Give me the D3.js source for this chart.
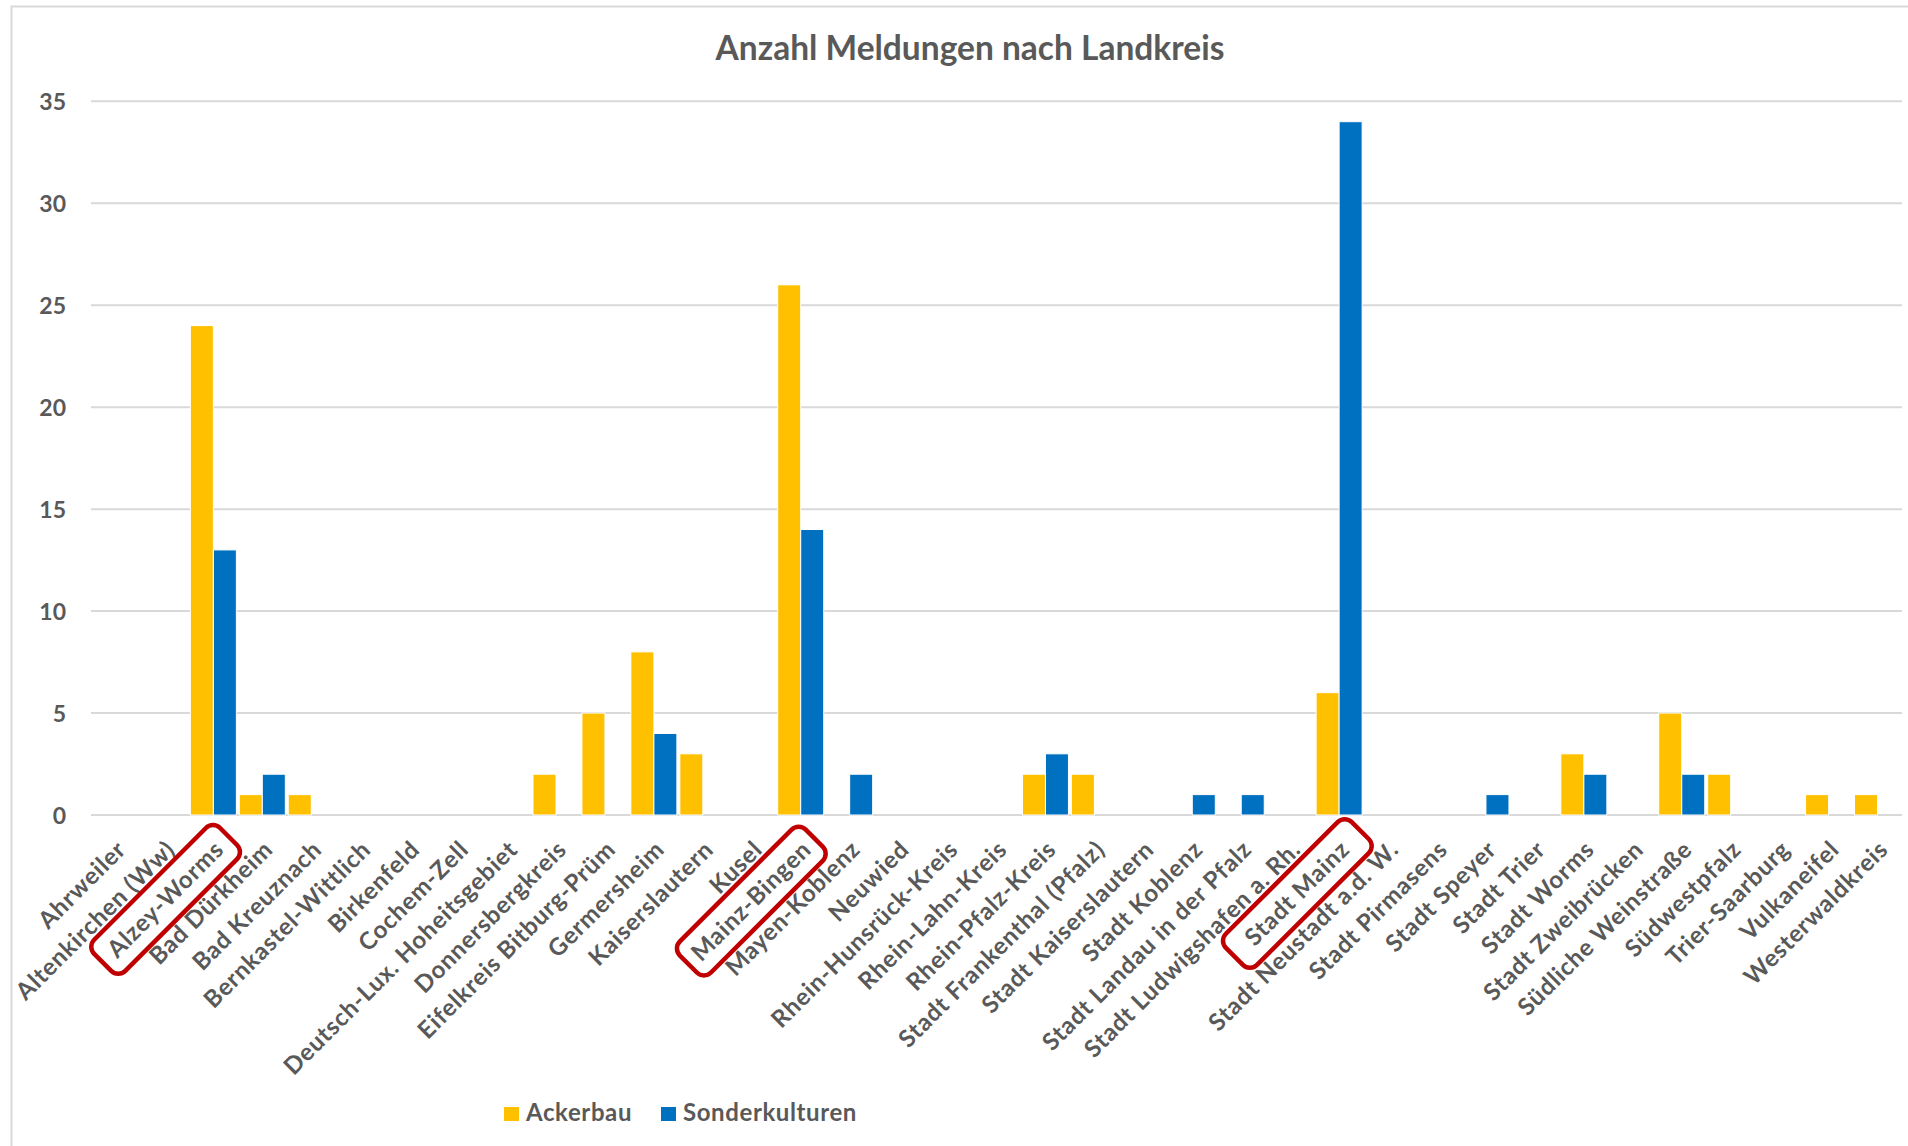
<!DOCTYPE html>
<html>
<head>
<meta charset="utf-8">
<script src="https://cdn.jsdelivr.net/npm/d3@7"></script>
<style>
  html, body { margin: 0; padding: 0; background: #ffffff; }
  svg { display: block; }
  text { font-family: Lato, "Open Sans", sans-serif; }
</style>
</head>
<body>
<svg id="chart" width="1908" height="1146"></svg>
<script>
// ---------------- data ----------------
const title = "Anzahl Meldungen nach Landkreis";
const categories = [
  "Ahrweiler", "Altenkirchen (Ww)", "Alzey-Worms", "Bad Dürkheim", "Bad Kreuznach",
  "Bernkastel-Wittlich", "Birkenfeld", "Cochem-Zell", "Deutsch-Lux. Hoheitsgebiet",
  "Donnersbergkreis", "Eifelkreis Bitburg-Prüm", "Germersheim", "Kaiserslautern", "Kusel",
  "Mainz-Bingen", "Mayen-Koblenz", "Neuwied", "Rhein-Hunsrück-Kreis", "Rhein-Lahn-Kreis",
  "Rhein-Pfalz-Kreis", "Stadt Frankenthal (Pfalz)", "Stadt Kaiserslautern", "Stadt Koblenz",
  "Stadt Landau in der Pfalz", "Stadt Ludwigshafen a. Rh.", "Stadt Mainz", "Stadt Neustadt a.d. W.",
  "Stadt Pirmasens", "Stadt Speyer", "Stadt Trier", "Stadt Worms", "Stadt Zweibrücken",
  "Südliche Weinstraße", "Südwestpfalz", "Trier-Saarburg", "Vulkaneifel", "Westerwaldkreis"
];
const seriesNames = ["Ackerbau", "Sonderkulturen"];
const ackerbau = [0,0,24,1,1,0,0,0,0,2,5,8,3,0,26,0,0,0,0,2,2,0,0,0,0,6,0,0,0,0,3,0,5,2,0,1,1];
const sonderkulturen = [0,0,13,2,0,0,0,0,0,0,0,4,0,0,14,2,0,0,0,3,0,0,1,1,0,34,0,0,1,0,2,0,2,0,0,0,0];
const yTicks = [0, 5, 10, 15, 20, 25, 30, 35];
const highlighted = ["Alzey-Worms", "Mainz-Bingen", "Stadt Mainz"];

// ---------------- styles / layout ----------------
const colors = { "Ackerbau": "#FFC000", "Sonderkulturen": "#0070C0" };
const textColor = "#595959";
const gridColor = "#d9d9d9";
const plot = { left: 91, right: 1902, top: 101.3, bottom: 815 };

const svg = d3.select("#chart");

// chart-area border (right/bottom edges fall outside the picture)
svg.append("rect")
  .attr("x", 11.5).attr("y", 6.5)
  .attr("width", 1960).attr("height", 1200)
  .attr("fill", "#ffffff")
  .attr("stroke", gridColor).attr("stroke-width", 2);

const rows = categories.map((c, i) => ({ cat: c, values: [
  { s: "Ackerbau", v: ackerbau[i] },
  { s: "Sonderkulturen", v: sonderkulturen[i] }
]}));

const x0 = d3.scaleBand().domain(categories).range([plot.left, plot.right]).paddingInner(0).paddingOuter(0);
const x1 = d3.scaleBand().domain(seriesNames).range([0, x0.bandwidth()]).paddingInner(0).paddingOuter(0.064);
const y = d3.scaleLinear().domain([0, 35]).range([plot.bottom, plot.top]);

// gridlines
svg.append("g")
  .selectAll("line")
  .data(yTicks)
  .join("line")
  .attr("x1", plot.left).attr("x2", plot.right)
  .attr("y1", d => y(d)).attr("y2", d => y(d))
  .attr("stroke", gridColor).attr("stroke-width", 2);

// y axis labels
const yAxis = svg.append("g")
  .attr("transform", `translate(${plot.left},0)`)
  .call(d3.axisLeft(y).tickValues(yTicks).tickSize(0).tickPadding(25));
yAxis.select(".domain").remove();
yAxis.selectAll("text")
  .attr("fill", textColor)
  .attr("font-family", "Lato, sans-serif")
  .attr("font-size", 23)
  .attr("font-weight", 700)
  .attr("dy", "0.35em");

// bars
const groups = svg.append("g")
  .selectAll("g")
  .data(rows)
  .join("g")
  .attr("transform", d => `translate(${x0(d.cat)},0)`);
groups.selectAll("rect")
  .data(d => d.values.filter(e => e.v > 0))
  .join("rect")
  .attr("x", d => x1(d.s))
  .attr("width", x1.bandwidth())
  .attr("y", d => y(d.v))
  .attr("height", d => y(0) - y(d.v))
  .attr("fill", d => colors[d.s])
  .attr("stroke", "#ffffff")
  .attr("stroke-width", 1);

// x axis labels
const xAxis = svg.append("g")
  .attr("transform", `translate(0,${plot.bottom})`)
  .call(d3.axisBottom(x0).tickSize(0));
xAxis.select(".domain").remove();
const labelShift = "translate(12,36) rotate(-45)";
xAxis.selectAll(".tick text")
  .attr("x", 0).attr("y", 0).attr("dy", 0)
  .attr("transform", labelShift)
  .attr("text-anchor", "end")
  .attr("fill", textColor)
  .attr("font-family", "Lato, sans-serif")
  .attr("font-size", 24)
  .attr("font-weight", 700)
  .attr("letter-spacing", 0.8);

// red highlight boxes around selected labels
xAxis.selectAll(".tick")
  .filter(d => highlighted.includes(d))
  .each(function () {
    const g = d3.select(this);
    const len = g.select("text").node().getComputedTextLength();
    const w = 178, h = 44;
    g.append("rect")
      .attr("transform", labelShift)
      .attr("x", -len / 2 - w / 2)
      .attr("y", -8 - h / 2)
      .attr("width", w).attr("height", h)
      .attr("rx", 10).attr("ry", 10)
      .attr("fill", "none")
      .attr("stroke", "#C00000")
      .attr("stroke-width", 4.5);
  });

// title
svg.append("text")
  .attr("x", 970).attr("y", 60)
  .attr("text-anchor", "middle")
  .attr("fill", textColor)
  .attr("font-family", "Lato, sans-serif")
  .attr("font-size", 33.5)
  .attr("font-weight", 700)
  .text(title);

// legend
const legend = svg.append("g");
const legendPos = [{ s: "Ackerbau", x: 504 }, { s: "Sonderkulturen", x: 661 }];
legendPos.forEach(p => {
  legend.append("rect")
    .attr("x", p.x).attr("y", 1107)
    .attr("width", 15).attr("height", 14)
    .attr("fill", colors[p.s]);
  legend.append("text")
    .attr("x", p.x + 22).attr("y", 1121)
    .attr("fill", textColor)
    .attr("font-family", "Lato, sans-serif")
    .attr("font-size", 24)
    .attr("font-weight", 700)
    .attr("letter-spacing", 0.6)
    .text(p.s);
});
</script>
</body>
</html>
